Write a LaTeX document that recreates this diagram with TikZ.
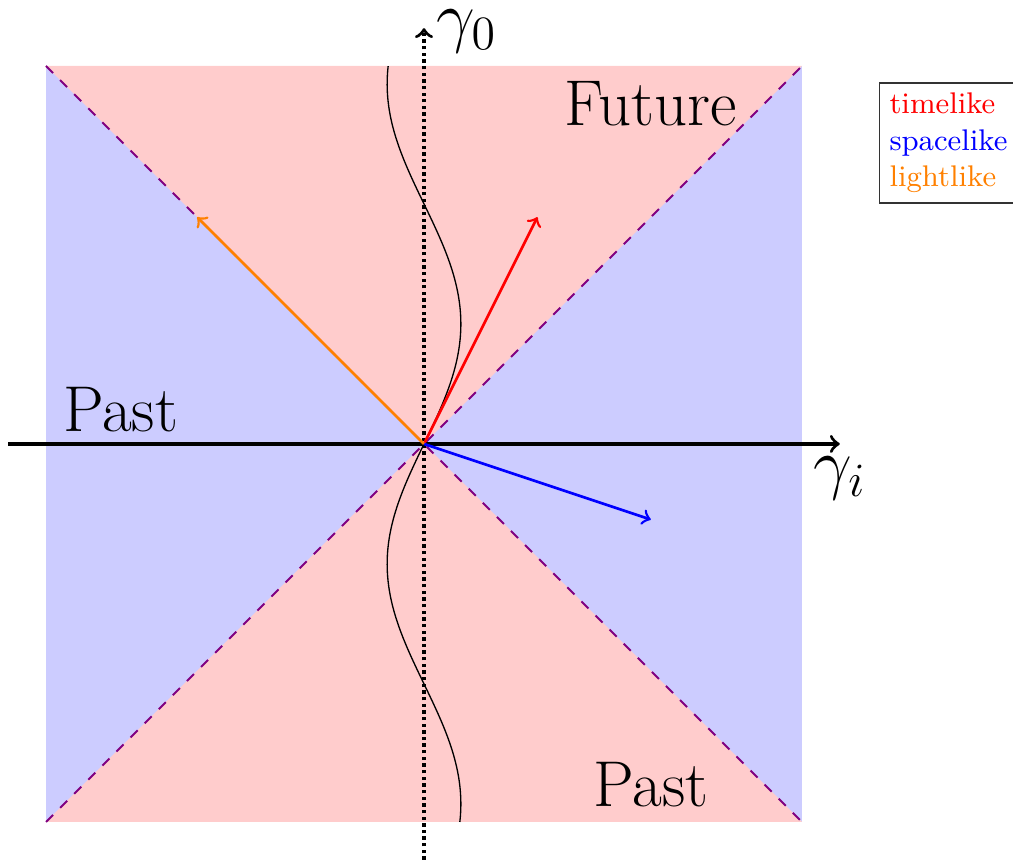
\documentclass[tikz,border=0pt]{standalone}
\usepackage{amsmath}
\usetikzlibrary{calc,positioning}
\tikzset{
  axis/.style={->, line width=1pt, black},
  timeaxis/.style={->, line width=1pt, black, densely dotted},
  cone/.style={violet, dashed, semithick},
  vec/.style={->, thick},
  worldline/.style={black, thin},
  region/.style={font=\fontsize{19.5}{24}\selectfont},
  legendbox/.style={draw=black!80, align=left, font=\small, inner sep=3pt}
}

\begin{document}
\begin{tikzpicture}
  \useasboundingbox (-4.487,-4.402) rectangle (6.233,4.698);
  % regions
  \fill[blue!20] (-4,-4) rectangle (4,4);
  \fill[red!20] (0,0)--(-4,4)--(4,4)--cycle;
  \fill[red!20] (0,0)--(-4,-4)--(4,-4)--cycle;
  \draw[cone] (-4,-4)--(4,4);
  \draw[cone] (-4,4)--(4,-4);
  % worldline
  \draw[worldline] plot[domain=-4:4, samples=120, smooth, variable=\t] ({0.39*sin(deg(1.237*\t))},\t);
  % axes
  \coordinate (O) at (0,0);
  \draw[axis] (-4.4,0)--(4.4,0) node[below] (gi) {\huge$\gamma_i$};
  \draw[timeaxis] (0,-4.4)--(0,4.4) node[right, yshift=-1pt] (g0) {\huge$\gamma_0$};
  % vectors
  \coordinate (tl) at (1.2,2.4);
  \coordinate (sl) at (2.4,-0.8);
  \coordinate (ll) at (-2.4,2.4);
  \draw[vec, red] (O)--(tl);
  \draw[vec, blue] (O)--(sl);
  \draw[vec, orange] (O)--(ll);
  % labels
  \node[region] (fut) at (2.4,3.6) {Future};
  \node[region] (pastl) at (-3.21,0.36) {Past};
  \node[region] (pastb) at (2.4,-3.61) {Past};
  \node[legendbox] (leg) at (5.55,3.185) {\textcolor{red}{timelike}\\\textcolor{blue}{spacelike}\\\textcolor{orange}{lightlike}};
\end{tikzpicture}
\end{document}
